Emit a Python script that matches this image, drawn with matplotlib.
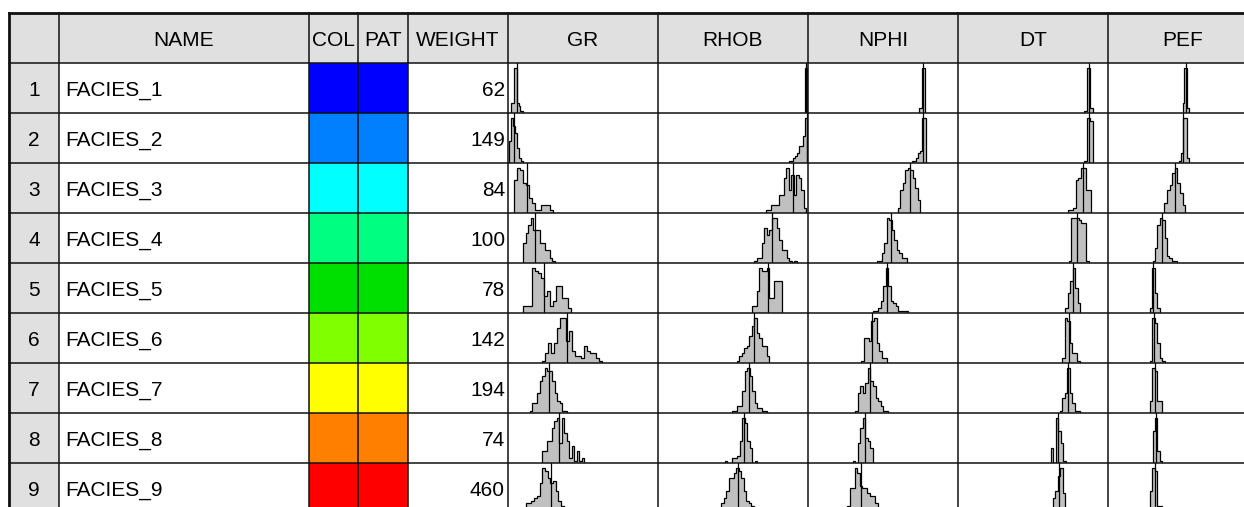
import numpy as np
import matplotlib.pyplot as plt

plt.rcParams['font.family'] = ['Liberation Sans', 'DejaVu Sans']

# ---- table content ----
facies_ids = [1, 2, 3, 4, 5, 6, 7, 8, 9]
facies_names = ['FACIES_1', 'FACIES_2', 'FACIES_3', 'FACIES_4', 'FACIES_5',
                'FACIES_6', 'FACIES_7', 'FACIES_8', 'FACIES_9']
facies_colors = ['#0000ff', '#0080ff', '#00ffff', '#00ff80', '#00e000',
                 '#80ff00', '#ffff00', '#ff8000', '#ff0000']
facies_weight = [62, 149, 84, 100, 78, 142, 194, 74, 460]

header = ['', 'NAME', 'COL', 'PAT', 'WEIGHT', 'GR', 'RHOB', 'NPHI', 'DT', 'PEF']

log_names = ['GR', 'RHOB', 'NPHI', 'DT', 'PEF']
log_ranges = [(0, 150), (1.5, 3.0), (0.0, 0.6), (40, 190), (0, 15)]

# ---- histograms per facies (first bin edge, bin width, counts, mean) ----
gr_start = [3, 1, 6, 15.3, 15, 34, 21.5, 33.5, 18]
gr_width = [1.5, 2, 3, 2.4, 3, 3, 2.5, 2.5, 2.7]
gr_counts = [
    [4, 4, 18, 18, 4, 3, 1, 1],
    [9, 18, 15, 12, 6, 2, 1],
    [13, 18, 17, 12, 11, 6, 4, 1, 1, 3, 3, 3, 1],
    [8, 12, 15, 18, 13, 13, 13, 8, 8, 5, 5, 2, 1],
    [3, 3, 3, 18, 17, 16, 14, 7, 9, 3, 5, 11, 11, 6, 6, 2],
    [1, 4, 8, 4, 8, 14, 18, 18, 9, 13, 5, 3, 3, 2, 7, 5, 4, 4, 2, 1],
    [1, 4, 4, 8, 13, 15, 18, 17, 17, 13, 8, 5, 4, 1, 1],
    [5, 5, 9, 9, 14, 17, 18, 8, 18, 12, 9, 2, 7, 1, 5, 1, 2],
    [4, 4, 5, 6, 7, 12, 18, 17, 14, 12, 13, 9, 5, 3, 2, 1],
]
gr_mean = [8.7, 6, 18.7, 27.3, 36.3, 59.3, 41, 51, 42.7]

rhob_start = [2.97, 2.81, 2.58, 2.46, 2.435, 2.285, 2.24, 2.165, 2.13]
rhob_width = [0.01, 0.02, 0.025, 0.025, 0.025, 0.025, 0.025, 0.025, 0.025]
rhob_counts = [
    [18, 18],
    [1, 1, 2, 3, 4, 7, 7, 11, 18],
    [1, 1, 3, 3, 3, 7, 7, 14, 18, 9, 15, 7, 15, 14, 9, 2],
    [1, 2, 2, 8, 14, 11, 13, 18, 18, 14, 9, 5, 5, 2, 1, 0, 1],
    [3, 3, 9, 18, 17, 17, 18, 6, 6, 13, 13, 13],
    [1, 3, 4, 6, 7, 11, 15, 18, 12, 10, 7, 7, 3],
    [1, 1, 3, 3, 9, 17, 18, 15, 9, 4, 2, 2, 1, 1],
    [1, 0, 0, 2, 2, 3, 9, 18, 16, 9, 6, 0, 1],
    [4, 6, 9, 14, 14, 16, 18, 17, 14, 9, 5, 4, 3, 2, 1],
]
rhob_mean = [2.98, 2.985, 2.847, 2.643, 2.597, 2.463, 2.413, 2.363, 2.303]

nphi_start = [0.442, 0.416, 0.358, 0.274, 0.26, 0.214, 0.19, 0.18, 0.158]
nphi_width = [0.006, 0.008, 0.01, 0.01, 0.01, 0.01, 0.01, 0.01, 0.01]
nphi_counts = [
    [2, 2, 18, 18],
    [1, 1, 2, 4, 5, 18, 18],
    [2, 9, 12, 17, 18, 17, 14, 10, 5],
    [1, 1, 4, 8, 18, 17, 13, 9, 5, 4, 2, 2],
    [1, 1, 2, 5, 11, 18, 11, 5, 4, 3, 1, 1, 1, 1],
    [1, 10, 10, 9, 17, 18, 8, 5, 2, 2],
    [1, 8, 11, 8, 12, 18, 13, 11, 6, 5, 3, 1, 1],
    [1, 0, 8, 14, 18, 10, 9, 6],
    [3, 10, 10, 18, 16, 11, 10, 10, 8, 7, 7, 4],
]
nphi_mean = [0.46, 0.46, 0.408, 0.331, 0.317, 0.257, 0.247, 0.229, 0.213]

dt_start = [165.5, 165.5, 150, 150.5, 147, 144, 141.5, 132.5, 132]
dt_width = [1.6, 1.6, 2.5, 2.5, 2.5, 2.5, 2.5, 2.5, 2.5]
dt_counts = [
    [1, 1, 18, 18, 2, 2],
    [1, 1, 18, 18, 17, 17],
    [1, 1, 2, 13, 14, 18, 18, 9, 9],
    [1, 18, 18, 18, 17, 16, 16, 1],
    [2, 8, 13, 18, 10, 4],
    [2, 18, 17, 8, 4, 4, 1],
    [1, 6, 8, 18, 8, 4, 1, 1],
    [6, 0, 18, 13, 8, 1],
    [2, 6, 9, 15, 18, 8],
]
dt_mean = [171, 171.3, 164.7, 159, 155.3, 151, 150.3, 140.3, 141.3]

pef_start = [7.45, 7.05, 5.63, 4.45, 4.15, 4.15, 4.15, 4.47, 4.15]
pef_width = [0.15, 0.2, 0.26, 0.24, 0.25, 0.25, 0.25, 0.23, 0.25]
pef_counts = [
    [4, 18, 18, 2],
    [1, 4, 18, 18, 2],
    [4, 9, 11, 16, 18, 12, 8, 3],
    [1, 6, 15, 18, 17, 10, 3, 2, 1, 1],
    [2, 18, 8, 2],
    [1, 18, 16, 8, 2, 1],
    [5, 18, 17, 5, 5],
    [13, 18, 5, 1],
    [9, 18, 17, 3, 3, 1],
]
pef_mean = [7.8, 7.5, 6.7, 5.4, 4.5, 4.6, 4.7, 4.8, 4.7]

log_data = {
    'GR': (gr_start, gr_width, gr_counts, gr_mean),
    'RHOB': (rhob_start, rhob_width, rhob_counts, rhob_mean),
    'NPHI': (nphi_start, nphi_width, nphi_counts, nphi_mean),
    'DT': (dt_start, dt_width, dt_counts, dt_mean),
    'PEF': (pef_start, pef_width, pef_counts, pef_mean),
}

# ---- layout (pixels) ----
W, H = 1244, 507
col_edges = [9, 59, 309, 358, 408, 508, 658, 808, 958, 1108, 1258]
top = 13
head_h = 50
row_h = 50
n_rows = len(facies_names)
bottom = top + head_h + n_rows * row_h
grid_col = '#111111'
gray = '#e0e0e0'
fs = 15


def row_top(i):
    return top + head_h + i * row_h


def draw_hist(ax, start, width, counts, mean, lo, hi):
    counts = np.asarray(counts, dtype=float)
    edges = start + width * np.arange(len(counts) + 1)
    ax.stairs(counts, edges, fill=True, color='#c0c0c0', lw=0)
    ax.stairs(counts, edges, baseline=0, color='black', lw=0.9)
    ax.axvline(mean, color='black', lw=0.9)
    ax.set_xlim(lo, hi)
    ax.set_ylim(0, counts.max() / 0.9)
    ax.axis('off')


fig = plt.figure(figsize=(W / 100, H / 100), dpi=100)

# histograms, one small axes per cell
for j, name in enumerate(log_names):
    x0, x1 = col_edges[5 + j], col_edges[6 + j]
    lo, hi = log_ranges[j]
    starts, widths, counts, means = log_data[name]
    for i in range(n_rows):
        y0 = row_top(i)
        hax = fig.add_axes([x0 / W, 1 - (y0 + row_h) / H, (x1 - x0) / W, row_h / H])
        hax.set_zorder(0)
        draw_hist(hax, starts[i], widths[i], counts[i], means[i], lo, hi)

# table grid and text on top
ax = fig.add_axes([0, 0, 1, 1])
ax.set_zorder(1)
ax.patch.set_visible(False)
ax.set_xlim(0, W)
ax.set_ylim(H, 0)
ax.axis('off')

# header background and index column
ax.add_patch(plt.Rectangle((col_edges[0], top), col_edges[-1] - col_edges[0], head_h,
                           facecolor=gray, edgecolor='none'))
ax.add_patch(plt.Rectangle((col_edges[0], top + head_h), col_edges[1] - col_edges[0],
                           bottom - top - head_h, facecolor=gray, edgecolor='none'))

# colour and pattern swatches
for i, c in enumerate(facies_colors):
    for k in (2, 3):
        ax.add_patch(plt.Rectangle((col_edges[k], row_top(i)), col_edges[k + 1] - col_edges[k],
                                   row_h, facecolor=c, edgecolor='none'))

# grid lines
for y in [top + head_h + i * row_h for i in range(n_rows)]:
    ax.plot([col_edges[0], col_edges[-1]], [y, y], color=grid_col, lw=1.1)
for x in col_edges[1:]:
    ax.plot([x, x], [top, bottom], color=grid_col, lw=1.1)
ax.plot([col_edges[0], col_edges[-1]], [top, top], color=grid_col, lw=2.0)
ax.plot([col_edges[0], col_edges[0]], [top, bottom], color=grid_col, lw=2.0)

# header text
for k, label in enumerate(header):
    if label:
        cx = (col_edges[k] + col_edges[k + 1]) / 2
        ax.text(cx, top + head_h / 2 + 8, label, ha='center', va='baseline', fontsize=fs)

# rows
for i in range(n_rows):
    cy = row_top(i) + row_h / 2 + 8
    ax.text((col_edges[0] + col_edges[1]) / 2, cy, str(facies_ids[i]),
            ha='center', va='baseline', fontsize=fs)
    ax.text(col_edges[1] + 6, cy, facies_names[i], ha='left', va='baseline', fontsize=fs)
    ax.text(col_edges[5] - 3, cy, str(facies_weight[i]), ha='right', va='baseline', fontsize=fs)

fig.savefig('out.png', dpi=100)
